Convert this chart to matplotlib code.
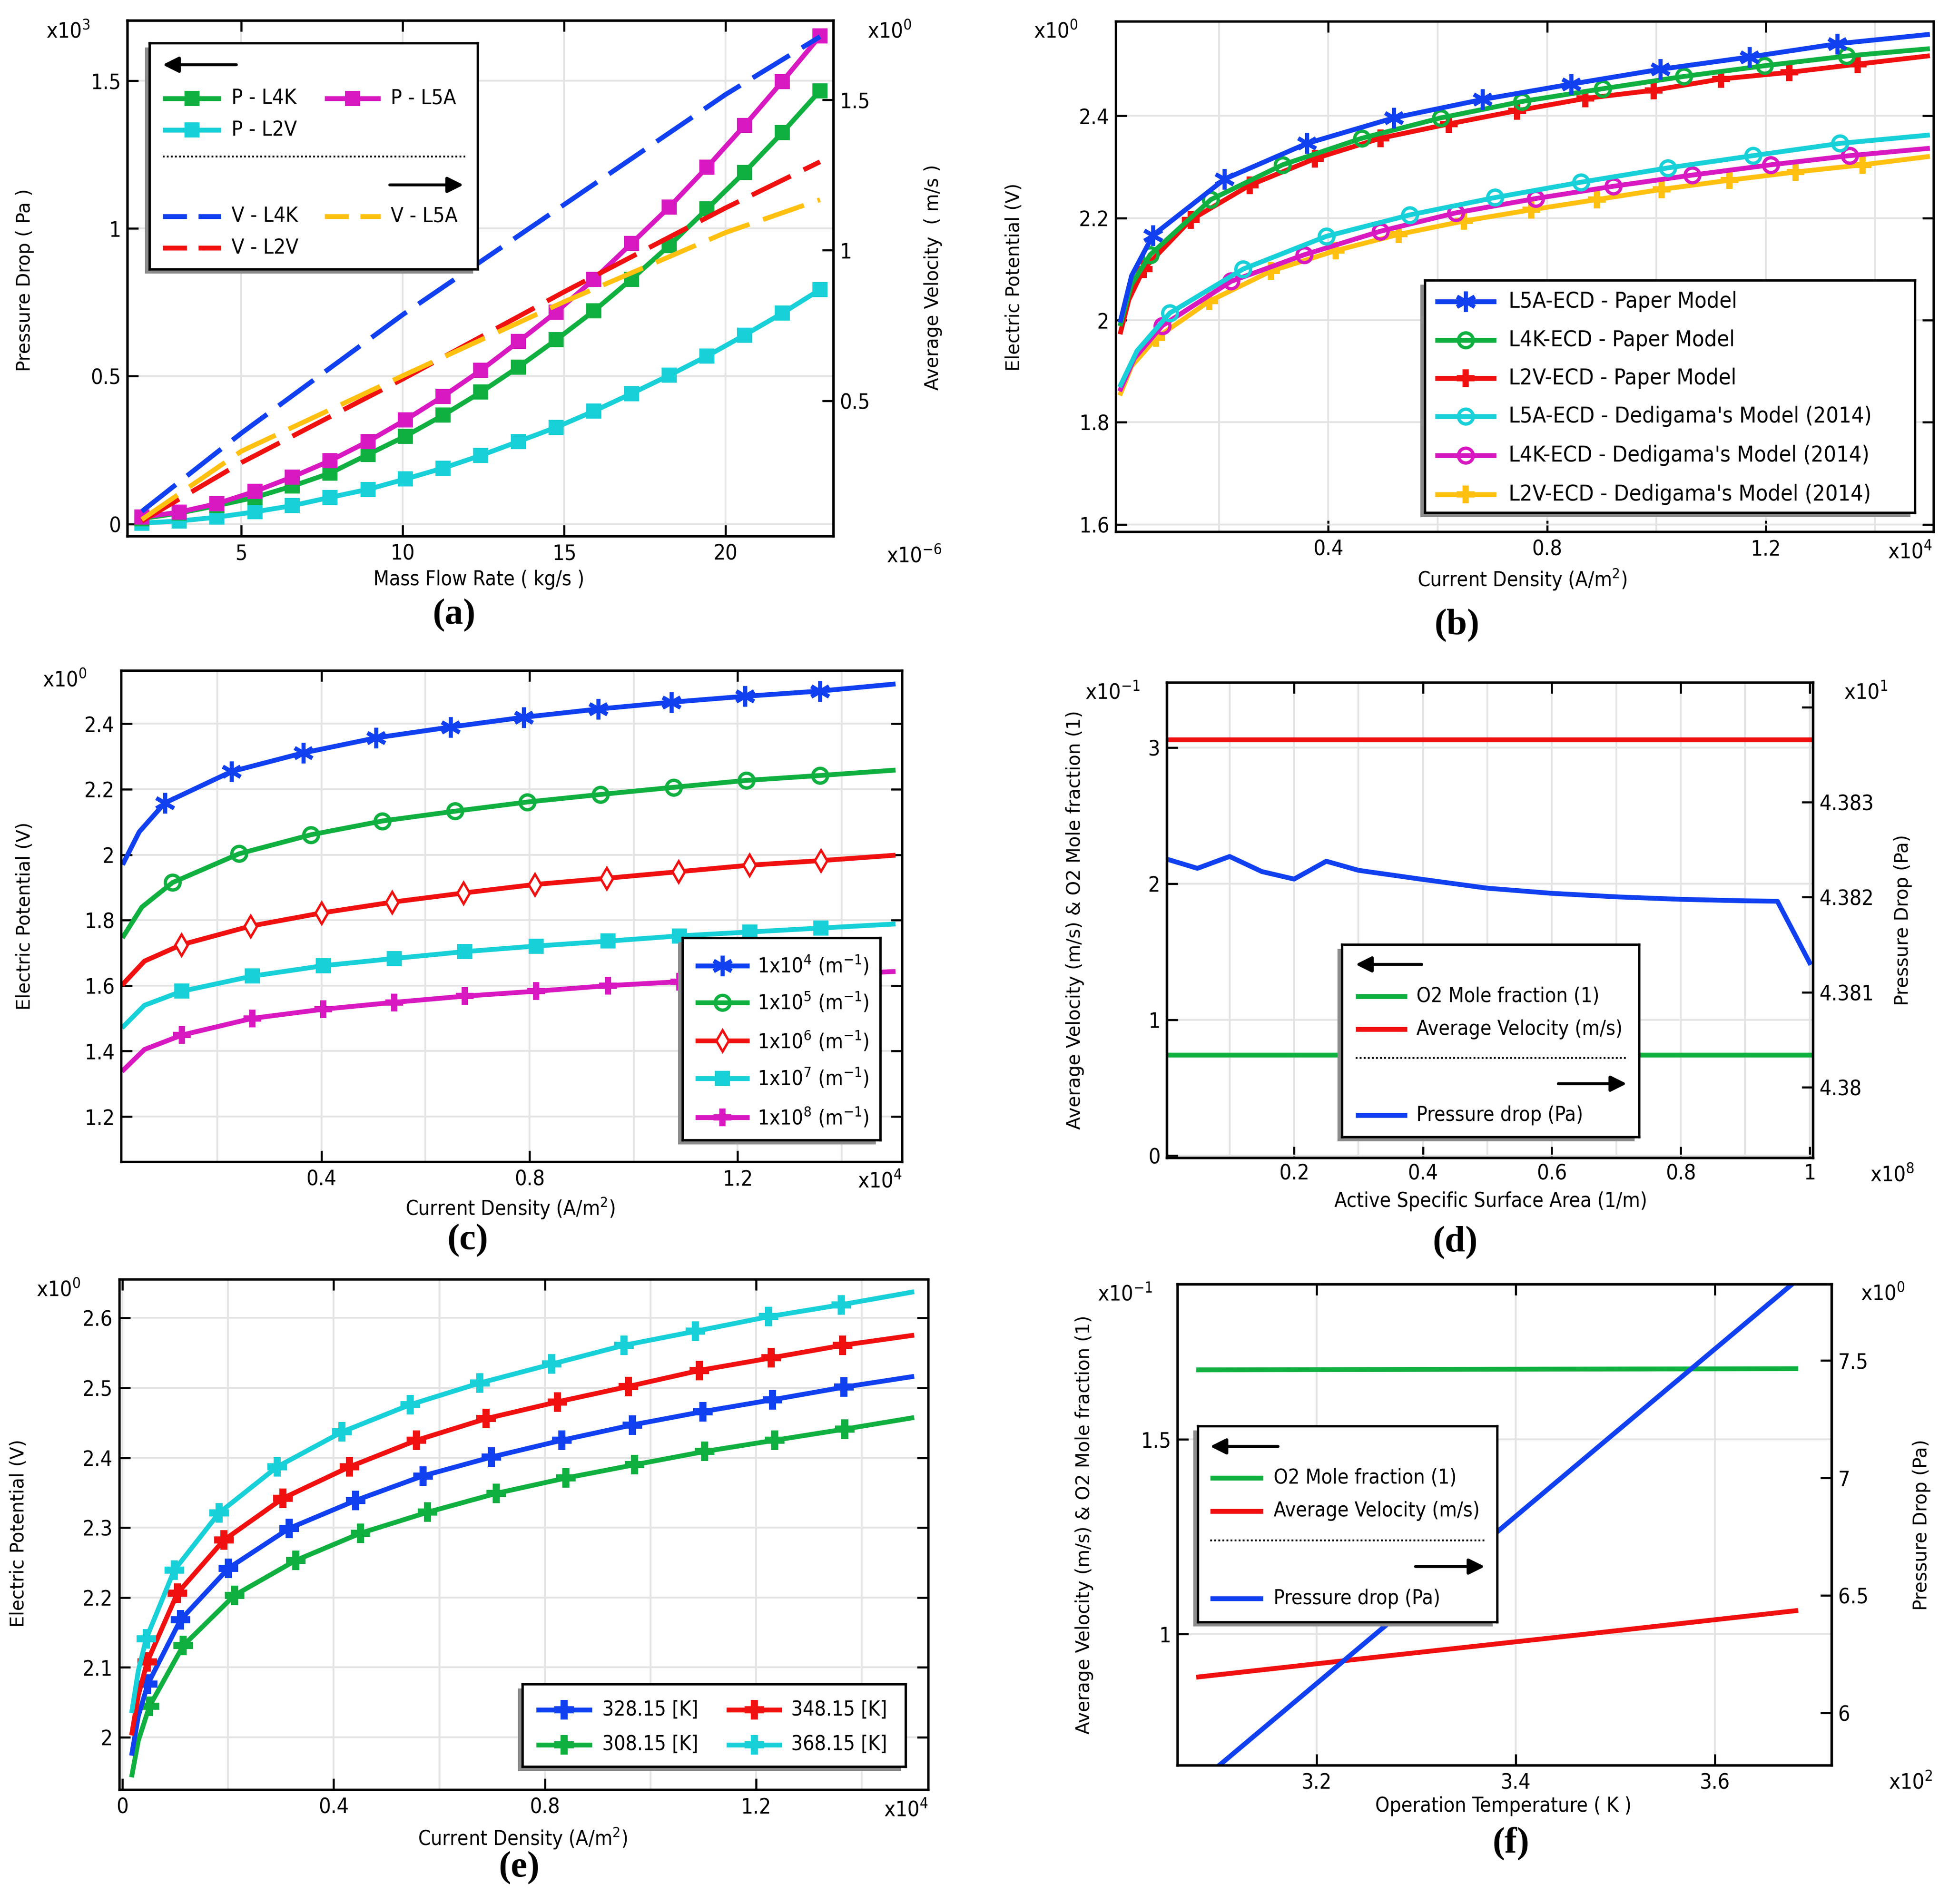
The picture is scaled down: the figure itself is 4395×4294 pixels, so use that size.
import numpy as np
import matplotlib
matplotlib.use("Agg")
import matplotlib.pyplot as plt
from matplotlib import font_manager

W, H, DPI = 4395, 4294, 300

# ---------------- data ----------------
# (a) pressure drop (x1e3 Pa) and average velocity (m/s) vs mass flow rate (x1e-6 kg/s)
mass_flow = [1.92, 3.08, 4.25, 5.42, 6.58, 7.75, 8.92, 10.08, 11.25, 12.42,
             13.58, 14.75, 15.92, 17.08, 18.25, 19.42, 20.58, 21.75, 22.92]
p_l4k = [0.018, 0.037, 0.062, 0.090, 0.128, 0.172, 0.235, 0.297, 0.368, 0.446,
         0.531, 0.623, 0.721, 0.828, 0.942, 1.066, 1.190, 1.324, 1.466]
p_l5a = [0.023, 0.040, 0.069, 0.110, 0.159, 0.214, 0.279, 0.352, 0.432, 0.520,
         0.617, 0.717, 0.828, 0.949, 1.072, 1.207, 1.348, 1.497, 1.651]
p_l2v = [0.003, 0.010, 0.023, 0.041, 0.062, 0.090, 0.117, 0.152, 0.189, 0.232,
         0.279, 0.327, 0.382, 0.441, 0.503, 0.568, 0.639, 0.713, 0.793]
vel_flow = [1.92, 5.0, 10.0, 15.0, 20.0, 22.92]
v_l4k = [0.132, 0.392, 0.786, 1.152, 1.518, 1.710]
v_l5a = [0.105, 0.332, 0.583, 0.829, 1.059, 1.168]
v_l2v = [0.100, 0.294, 0.572, 0.862, 1.141, 1.294]

# (b) polarisation curves, current density x1e4 A/m2, potential V
b_x_l5a = [0.02, 0.04, 0.079, 0.21, 0.361, 0.52, 0.682, 0.844, 1.007, 1.17, 1.331, 1.496]
b_y_l5a = [2.0, 2.087, 2.166, 2.276, 2.346, 2.396, 2.432, 2.462, 2.491, 2.515, 2.541, 2.559]
b_x_l4k = [0.02, 0.04, 0.074, 0.185, 0.316, 0.461, 0.606, 0.754, 0.902, 1.05, 1.198, 1.348, 1.496]
b_y_l4k = [1.993, 2.07, 2.128, 2.236, 2.304, 2.356, 2.396, 2.428, 2.453, 2.477, 2.498, 2.517, 2.531]
b_x_l2v = [0.02, 0.035, 0.062, 0.148, 0.256, 0.375, 0.495, 0.62, 0.745, 0.87, 0.995, 1.118,
           1.243, 1.368, 1.496]
b_y_l2v = [1.977, 2.04, 2.1, 2.196, 2.264, 2.316, 2.356, 2.384, 2.41, 2.434, 2.45, 2.472,
           2.485, 2.501, 2.517]
b_x_d5a = [0.02, 0.05, 0.11, 0.244, 0.396, 0.549, 0.705, 0.862, 1.021, 1.177, 1.336, 1.496]
b_y_d5a = [1.873, 1.94, 2.014, 2.1, 2.164, 2.206, 2.24, 2.27, 2.298, 2.322, 2.346, 2.362]
b_x_d4k = [0.02, 0.045, 0.096, 0.222, 0.356, 0.495, 0.633, 0.779, 0.921, 1.066, 1.209, 1.354, 1.496]
b_y_d4k = [1.865, 1.925, 1.989, 2.076, 2.128, 2.174, 2.21, 2.238, 2.262, 2.284, 2.304, 2.322, 2.336]
b_x_d2v = [0.02, 0.04, 0.085, 0.182, 0.295, 0.413, 0.529, 0.648, 0.771, 0.891, 1.01, 1.134,
           1.255, 1.377, 1.496]
b_y_d2v = [1.857, 1.91, 1.965, 2.037, 2.096, 2.136, 2.168, 2.194, 2.216, 2.236, 2.256, 2.274,
           2.29, 2.304, 2.32]

# (c) effect of specific surface area
c_x_a = [0.02, 0.05, 0.099, 0.227, 0.365, 0.505, 0.648, 0.789, 0.932, 1.073, 1.214, 1.358, 1.499]
c_y_1e4 = [1.976, 2.07, 2.158, 2.254, 2.311, 2.357, 2.39, 2.42, 2.445, 2.466, 2.484, 2.5, 2.521]
c_x_b = [0.02, 0.055, 0.114, 0.242, 0.38, 0.517, 0.657, 0.796, 0.936, 1.077, 1.217, 1.358, 1.499]
c_y_1e5 = [1.752, 1.84, 1.915, 2.003, 2.061, 2.103, 2.133, 2.161, 2.184, 2.206, 2.227, 2.242, 2.258]
c_x_c = [0.02, 0.06, 0.131, 0.264, 0.4, 0.536, 0.673, 0.81, 0.948, 1.086, 1.223, 1.36, 1.499]
c_y_1e6 = [1.607, 1.675, 1.725, 1.782, 1.822, 1.855, 1.883, 1.909, 1.928, 1.948, 1.968, 1.982, 1.998]
c_x_d = [0.02, 0.06, 0.132, 0.267, 0.404, 0.54, 0.676, 0.813, 0.951, 1.088, 1.224, 1.36, 1.499]
c_y_1e7 = [1.476, 1.54, 1.583, 1.629, 1.661, 1.683, 1.704, 1.721, 1.736, 1.752, 1.764, 1.776, 1.788]
c_y_1e8 = [1.343, 1.405, 1.449, 1.5, 1.528, 1.549, 1.568, 1.583, 1.6, 1.612, 1.625, 1.633, 1.643]

# (d) specific surface area sweep (x1e8 1/m)
area = [0.005, 0.05, 0.1, 0.15, 0.2, 0.25, 0.3, 0.4, 0.5, 0.6, 0.7, 0.8, 0.9, 0.95, 1.0]
dp_area = [4.382395, 4.382303, 4.382428, 4.382269, 4.38219, 4.382378, 4.382282, 4.382186,
           4.382094, 4.38204, 4.382003, 4.381977, 4.381961, 4.381957, 4.38131]
area_ends = [0.005, 1.0]
o2_area = [0.743, 0.743]
vel_area = [3.058, 3.058]

# (e) temperature effect
e_x_368 = [0.018, 0.03, 0.045, 0.098, 0.183, 0.293, 0.416, 0.545, 0.677, 0.813, 0.95, 1.085,
           1.224, 1.361, 1.495]
e_y_368 = [2.038, 2.095, 2.141, 2.239, 2.321, 2.387, 2.437, 2.476, 2.507, 2.534, 2.561, 2.581,
           2.602, 2.619, 2.637]
e_x_348 = [0.018, 0.03, 0.047, 0.104, 0.192, 0.304, 0.43, 0.557, 0.689, 0.824, 0.958, 1.093,
           1.229, 1.364, 1.495]
e_y_348 = [2.006, 2.06, 2.108, 2.206, 2.282, 2.342, 2.387, 2.425, 2.456, 2.48, 2.502, 2.525,
           2.543, 2.561, 2.575]
e_x_328 = [0.018, 0.03, 0.048, 0.11, 0.201, 0.316, 0.442, 0.569, 0.699, 0.832, 0.966, 1.099,
           1.231, 1.366, 1.495]
e_y_328 = [1.977, 2.03, 2.076, 2.168, 2.242, 2.299, 2.339, 2.374, 2.401, 2.425, 2.447, 2.466,
           2.483, 2.501, 2.516]
e_x_308 = [0.018, 0.03, 0.051, 0.115, 0.212, 0.328, 0.451, 0.578, 0.708, 0.84, 0.97, 1.103,
           1.235, 1.368, 1.495]
e_y_308 = [1.946, 1.995, 2.044, 2.131, 2.203, 2.253, 2.292, 2.322, 2.349, 2.371, 2.39, 2.409,
           2.425, 2.441, 2.457]

# (f) operating temperature sweep (x1e2 K)
temps = [3.0815, 3.2815, 3.4815, 3.6815]
o2_temp = [1.678, 1.679, 1.680, 1.681]
vel_temp = [0.890, 0.947, 1.003, 1.060]
dp_temp = [5.703, 6.415, 7.127, 7.838]

BLUE = "#1040f0"
GREEN = "#10b040"
RED = "#f01010"
CYAN = "#18d0d8"
MAGENTA = "#d818c0"
YELLOW = "#ffc010"

TICK_FS = 11.5
LABEL_FS = 11
SCALE_FS = 11.5

# ---------------- fonts ----------------
entries = {(f.name, f.stretch) for f in font_manager.fontManager.ttflist}
COND, STRETCH = "DejaVu Sans", "normal"
if any(n == "DejaVu Sans Condensed" for n, s in entries):
    COND = "DejaVu Sans Condensed"
elif ("DejaVu Sans", "condensed") in entries:
    STRETCH = "condensed"
elif any(n == "Liberation Sans Narrow" for n, s in entries):
    COND = "Liberation Sans Narrow"

plt.rcParams["font.family"] = [COND, "DejaVu Sans"]
plt.rcParams["font.stretch"] = STRETCH
plt.rcParams["mathtext.fontset"] = "custom"
pat = COND if STRETCH == "normal" else COND + ":stretch=" + STRETCH
plt.rcParams["mathtext.rm"] = pat
plt.rcParams["mathtext.it"] = pat + ":italic"
plt.rcParams["mathtext.bf"] = pat + ":bold"

fig = plt.figure(figsize=(W / DPI, H / DPI), dpi=DPI)


def add_px(l, t, r, b):
    return fig.add_axes([l / W, 1 - b / H, (r - l) / W, (b - t) / H])


def ftext(x, y, s, **kw):
    fig.text(x / W, 1 - y / H, s, **kw)


def xlab(x, y, s):
    ftext(x, y, s, ha="center", va="center", fontsize=LABEL_FS)


def ylab(x, y, s):
    ftext(x, y, s, rotation=90, ha="center", va="center", fontsize=10,
          family="DejaVu Sans", stretch="normal")


def frame(ax, xlim, ylim, xt, xl, yt, yl, xminor=(), twin=False):
    ax.set_xlim(*xlim)
    ax.set_ylim(*ylim)
    ax.set_xticks(xt)
    ax.set_xticklabels(xl)
    ax.set_xticks(xminor, minor=True)
    ax.set_yticks(yt)
    ax.set_yticklabels(yl)
    ax.tick_params(which="major", direction="in", length=6, width=1.1, top=True,
                   right=not twin, labelsize=TICK_FS)
    ax.tick_params(axis="x", which="major", pad=4)
    ax.tick_params(axis="y", which="major", pad=3.5)
    ax.tick_params(which="minor", length=0, top=True)
    ax.grid(True, which="both", color="#e4e4e4", lw=1.0)
    ax.set_axisbelow(True)
    for s in ax.spines.values():
        s.set_linewidth(1.3)


def right_axis(ax, ylim, yt, yl):
    a2 = ax.twinx()
    a2.set_ylim(*ylim)
    a2.set_yticks(yt)
    a2.set_yticklabels(yl)
    a2.tick_params(direction="in", length=6, width=1.1, labelsize=TICK_FS, pad=3.5)
    for s in a2.spines.values():
        s.set_linewidth(1.3)
    return a2


def legend_box(l, t, r, b, off=10):
    sh = add_px(l - off, t + off, r - off, b + off)
    sh.set_facecolor("#8c8c8c")
    sh.set_xticks([])
    sh.set_yticks([])
    for s in sh.spines.values():
        s.set_visible(False)
    lax = add_px(l, t, r, b)
    lax.set_xlim(0, r - l)
    lax.set_ylim(b - t, 0)
    lax.set_xticks([])
    lax.set_yticks([])
    for s in lax.spines.values():
        s.set_linewidth(1.3)
    return lax


def entry(lax, x0, x1, y, tx, text, size, color, ls="-", marker=None, **mk):
    lax.plot([x0, x1], [y, y], color=color, lw=2.6, ls=ls, solid_capstyle="butt",
             dash_capstyle="butt")
    if marker is not None:
        lax.plot([(x0 + x1) / 2], [y], ls="none", marker=marker, color=color, **mk)
    lax.text(tx, y, text, va="center", ha="left", fontsize=size)


def arrow(lax, x_from, x_to, y):
    lax.annotate("", xy=(x_to, y), xytext=(x_from, y),
                 arrowprops=dict(arrowstyle="-|>,head_length=0.6,head_width=0.3",
                                 lw=1.6, color="k", mutation_scale=12,
                                 shrinkA=0, shrinkB=0))


def dotted(lax, x0, x1, y):
    lax.plot([x0, x1], [y, y], color="k", lw=1.0, ls=(0, (1, 1.2)))


AST = dict(ms=11, mew=2.2)
CIR = dict(ms=8, mew=1.8, mfc="none")
PLS = dict(ms=9, mew=0.5)
DIA = dict(ms=8, mew=1.3, mfc="white")
SQA = dict(ms=7)

# ---------------- (a) ----------------
ax = add_px(287, 46, 1879, 1209)
frame(ax, (1.47, 23.33), (-0.041, 1.704), [5, 10, 15, 20], ["5", "10", "15", "20"],
      [0, 0.5, 1, 1.5], ["0", "0.5", "1", "1.5"], twin=True)
ax2 = right_axis(ax, (0.05, 1.764), [0.5, 1, 1.5], ["0.5", "1", "1.5"])
ax.plot(mass_flow, p_l2v, color=CYAN, lw=2.6, marker="s", **SQA)
ax.plot(mass_flow, p_l4k, color=GREEN, lw=2.6, marker="s", **SQA)
ax.plot(mass_flow, p_l5a, color=MAGENTA, lw=2.6, marker="s", **SQA)
dash = (0, (9, 3))
ax2.plot(vel_flow, v_l4k, color=BLUE, lw=2.6, ls=dash)
ax2.plot(vel_flow, v_l2v, color=RED, lw=2.6, ls=dash)
ax2.plot(vel_flow, v_l5a, color=YELLOW, lw=2.6, ls=dash)

lax = legend_box(337, 97, 1077, 607)
arrow(lax, 196, 30, 49)
entry(lax, 30, 161, 125, 185, "P - L4K", 11.3, GREEN, marker="s", **SQA)
entry(lax, 395, 521, 125, 544, "P - L5A", 11.3, MAGENTA, marker="s", **SQA)
entry(lax, 30, 161, 196, 185, "P - L2V", 11.3, CYAN, marker="s", **SQA)
dotted(lax, 30, 712, 256)
arrow(lax, 542, 708, 320)
entry(lax, 30, 161, 391, 185, "V - L4K", 11.3, BLUE, ls=(0, (5, 2.4)))
entry(lax, 395, 521, 391, 544, "V - L5A", 11.3, YELLOW, ls=(0, (5, 2.4)))
entry(lax, 30, 161, 462, 185, "V - L2V", 11.3, RED, ls=(0, (5, 2.4)))

ftext(203, 72, "x10$^{3}$", ha="right", va="center", fontsize=SCALE_FS)
ftext(1956, 72, "x10$^{0}$", ha="left", va="center", fontsize=SCALE_FS)
ftext(1999, 1255, "x10$^{-6}$", ha="left", va="center", fontsize=SCALE_FS)
xlab(1080, 1308, "Mass Flow Rate ( kg/s )")
ylab(56, 632, "Pressure Drop ( Pa )")
ylab(2104, 625, "Average Velocity  ( m/s )")

# ---------------- (b) ----------------
ax = add_px(2516, 48, 4360, 1199)
frame(ax, (0.011, 1.507), (1.586, 2.585), [0.4, 0.8, 1.2], ["0.4", "0.8", "1.2"],
      [1.6, 1.8, 2.0, 2.2, 2.4], ["1.6", "1.8", "2", "2.2", "2.4"],
      xminor=[0.2, 0.6, 1.0, 1.4])
inner = slice(2, -1)
ax.plot(b_x_d2v, b_y_d2v, color=YELLOW, lw=2.6, marker="P", markevery=inner, **PLS)
ax.plot(b_x_d4k, b_y_d4k, color=MAGENTA, lw=2.6, marker="o", markevery=inner, **CIR)
ax.plot(b_x_d5a, b_y_d5a, color=CYAN, lw=2.6, marker="o", markevery=inner, **CIR)
ax.plot(b_x_l2v, b_y_l2v, color=RED, lw=2.6, marker="P", markevery=inner, **PLS)
ax.plot(b_x_l4k, b_y_l4k, color=GREEN, lw=2.6, marker="o", markevery=inner, **CIR)
ax.plot(b_x_l5a, b_y_l5a, color=BLUE, lw=2.6, marker=(6, 2, 0), markevery=inner, **AST)

lax = legend_box(3213, 632, 4318, 1156)
rows = [48, 135, 221, 307, 395, 483]
b_names = ["L5A-ECD - Paper Model", "L4K-ECD - Paper Model", "L2V-ECD - Paper Model",
           "L5A-ECD - Dedigama's Model (2014)", "L4K-ECD - Dedigama's Model (2014)",
           "L2V-ECD - Dedigama's Model (2014)"]
b_styles = [(BLUE, (6, 2, 0), AST), (GREEN, "o", CIR), (RED, "P", PLS),
            (CYAN, "o", CIR), (MAGENTA, "o", CIR), (YELLOW, "P", PLS)]
for y, name, (col, mk, kw) in zip(rows, b_names, b_styles):
    entry(lax, 23, 161, y, 189, name, 12, col, marker=mk, **kw)

ftext(2431, 72, "x10$^{0}$", ha="right", va="center", fontsize=SCALE_FS)
ftext(4357, 1245, "x10$^{4}$", ha="right", va="center", fontsize=SCALE_FS)
xlab(3432, 1306, "Current Density (A/m$^{2}$)")
ylab(2287, 625, "Electric Potential (V)")

# ---------------- (c) ----------------
ax = add_px(273, 1512, 2034, 2620)
frame(ax, (0.015, 1.516), (1.062, 2.563), [0.4, 0.8, 1.2], ["0.4", "0.8", "1.2"],
      [1.2, 1.4, 1.6, 1.8, 2.0, 2.2, 2.4], ["1.2", "1.4", "1.6", "1.8", "2", "2.2", "2.4"],
      xminor=[0.2, 0.6, 1.0, 1.4])
ax.plot(c_x_d, c_y_1e8, color=MAGENTA, lw=2.6, marker="P", markevery=inner, **PLS)
ax.plot(c_x_d, c_y_1e7, color=CYAN, lw=2.6, marker="s", markevery=inner, **SQA)
ax.plot(c_x_c, c_y_1e6, color=RED, lw=2.6, marker="d", markevery=inner, **DIA)
ax.plot(c_x_b, c_y_1e5, color=GREEN, lw=2.6, marker="o", markevery=inner, **CIR)
ax.plot(c_x_a, c_y_1e4, color=BLUE, lw=2.6, marker=(6, 2, 0), markevery=inner, **AST)

lax = legend_box(1539, 2115, 1985, 2571)
c_names = ["1x10$^{4}$ (m$^{-1}$)", "1x10$^{5}$ (m$^{-1}$)", "1x10$^{6}$ (m$^{-1}$)",
           "1x10$^{7}$ (m$^{-1}$)", "1x10$^{8}$ (m$^{-1}$)"]
c_styles = [(BLUE, (6, 2, 0), AST), (GREEN, "o", CIR), (RED, "d", DIA),
            (CYAN, "s", SQA), (MAGENTA, "P", PLS)]
for y, name, (col, mk, kw) in zip([63, 146, 232, 317, 405], c_names, c_styles):
    entry(lax, 29, 151, y, 169, name, 11, col, marker=mk, **kw)

ftext(196, 1535, "x10$^{0}$", ha="right", va="center", fontsize=SCALE_FS)
ftext(2034, 2664, "x10$^{4}$", ha="right", va="center", fontsize=SCALE_FS)
xlab(1150, 2724, "Current Density (A/m$^{2}$)")
ylab(56, 2066, "Electric Potential (V)")

# ---------------- (d) ----------------
ax = add_px(2631, 1539, 4088, 2611)
frame(ax, (0.0024, 1.005), (-0.015, 3.48), [0.2, 0.4, 0.6, 0.8, 1.0],
      ["0.2", "0.4", "0.6", "0.8", "1"], [0, 1, 2, 3], ["0", "1", "2", "3"],
      xminor=[0.1, 0.3, 0.5, 0.7, 0.9], twin=True)
ax.tick_params(axis="x", which="major", pad=3)
ax2 = right_axis(ax, (4.379257, 4.38426), [4.38, 4.381, 4.382, 4.383, 4.384],
                 ["4.38", "4.381", "4.382", "4.383", ""])
ax.plot(area_ends, o2_area, color=GREEN, lw=2.6)
ax.plot(area_ends, vel_area, color=RED, lw=2.6)
ax2.plot(area, dp_area, color=BLUE, lw=2.6)

lax = legend_box(3026, 2130, 3696, 2564)
arrow(lax, 180, 31, 45)
entry(lax, 31, 147, 117, 168, "O2 Mole fraction (1)", 11, GREEN)
entry(lax, 31, 147, 191, 168, "Average Velocity (m/s)", 11, RED)
dotted(lax, 31, 642, 256)
arrow(lax, 488, 642, 314)
entry(lax, 31, 147, 385, 168, "Pressure drop (Pa)", 11, BLUE)

ftext(2571, 1562, "x10$^{-1}$", ha="right", va="center", fontsize=SCALE_FS)
ftext(4158, 1562, "x10$^{1}$", ha="left", va="center", fontsize=SCALE_FS)
ftext(4217, 2651, "x10$^{8}$", ha="left", va="center", fontsize=SCALE_FS)
xlab(3362, 2710, "Active Specific Surface Area (1/m)")
ylab(2424, 2075, "Average Velocity (m/s) & O2 Mole fraction (1)")
ylab(4291, 2075, "Pressure Drop (Pa)")

# ---------------- (e) ----------------
ax = add_px(269, 2885, 2093, 4036)
frame(ax, (-0.006, 1.526), (1.925, 2.6555), [0, 0.4, 0.8, 1.2], ["0", "0.4", "0.8", "1.2"],
      [2.0, 2.1, 2.2, 2.3, 2.4, 2.5, 2.6], ["2", "2.1", "2.2", "2.3", "2.4", "2.5", "2.6"],
      xminor=[0.2, 0.6, 1.0, 1.4])
PLE = dict(ms=10, mew=0.5)
ax.plot(e_x_308, e_y_308, color=GREEN, lw=2.6, marker="P", markevery=inner, **PLE)
ax.plot(e_x_328, e_y_328, color=BLUE, lw=2.6, marker="P", markevery=inner, **PLE)
ax.plot(e_x_348, e_y_348, color=RED, lw=2.6, marker="P", markevery=inner, **PLE)
ax.plot(e_x_368, e_y_368, color=CYAN, lw=2.6, marker="P", markevery=inner, **PLE)

lax = legend_box(1178, 3798, 2042, 3984)
entry(lax, 31, 157, 58, 180, "328.15 [K]", 11, BLUE, marker="P", **PLE)
entry(lax, 31, 157, 137, 180, "308.15 [K]", 11, GREEN, marker="P", **PLE)
entry(lax, 460, 585, 58, 606, "348.15 [K]", 11, RED, marker="P", **PLE)
entry(lax, 460, 585, 137, 606, "368.15 [K]", 11, CYAN, marker="P", **PLE)

ftext(182, 2910, "x10$^{0}$", ha="right", va="center", fontsize=SCALE_FS)
ftext(2093, 4082, "x10$^{4}$", ha="right", va="center", fontsize=SCALE_FS)
xlab(1178, 4145, "Current Density (A/m$^{2}$)")
ylab(42, 3458, "Electric Potential (V)")

# ---------------- (f) ----------------
ax = add_px(2655, 2896, 4130, 3981)
frame(ax, (3.0602, 3.7173), (0.6635, 1.898), [3.2, 3.4, 3.6], ["3.2", "3.4", "3.6"],
      [1.0, 1.5], ["1", "1.5"], twin=True)
ax2 = right_axis(ax, (5.7775, 7.825), [6, 6.5, 7, 7.5], ["6", "6.5", "7", "7.5"])
ax.plot(temps, o2_temp, color=GREEN, lw=2.6)
ax.plot(temps, vel_temp, color=RED, lw=2.6)
ax2.plot(temps, dp_temp, color=BLUE, lw=2.6)

lax = legend_box(2701, 3216, 3376, 3658)
arrow(lax, 181, 28, 46)
entry(lax, 28, 147, 117, 171, "O2 Mole fraction (1)", 11, GREEN)
entry(lax, 28, 147, 192, 171, "Average Velocity (m/s)", 11, RED)
dotted(lax, 28, 647, 258)
arrow(lax, 491, 647, 317)
entry(lax, 28, 147, 389, 171, "Pressure drop (Pa)", 11, BLUE)

ftext(2599, 2919, "x10$^{-1}$", ha="right", va="center", fontsize=SCALE_FS)
ftext(4196, 2919, "x10$^{0}$", ha="left", va="center", fontsize=SCALE_FS)
ftext(4259, 4021, "x10$^{2}$", ha="left", va="center", fontsize=SCALE_FS)
xlab(3390, 4073, "Operation Temperature ( K )")
ylab(2445, 3439, "Average Velocity (m/s) & O2 Mole fraction (1)")
ylab(4333, 3439, "Pressure Drop (Pa)")

# ---------------- panel letters ----------------
for (px, py, s) in [(1024, 1388, "(a)"), (3285, 1411, "(b)"), (1055, 2798, "(c)"),
                    (3281, 2803, "(d)"), (1171, 4213, "(e)"), (3407, 4158, "(f)")]:
    ftext(px, py, s, ha="center", va="center", fontsize=20, fontweight="bold",
          family=["Liberation Serif", "DejaVu Serif"], stretch="normal")

fig.savefig("out.png", dpi=DPI)
